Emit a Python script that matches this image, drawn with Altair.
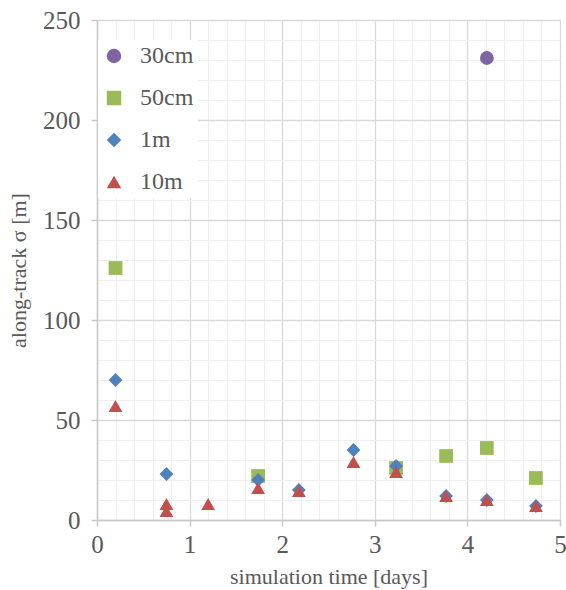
import altair as alt
import pandas as pd

series_names = ["30cm", "50cm", "1m", "10m"]

t_30cm = [4.21]
v_30cm = [231]

t_50cm = [0.20, 1.74, 3.23, 3.77, 4.21, 4.74]
v_50cm = [126, 22, 26, 32, 36, 21]

t_1m = [0.20, 0.75, 1.74, 2.18, 2.77, 3.23, 3.77, 4.21, 4.74]
v_1m = [70, 23, 20, 15, 35, 27, 12, 10, 7]

t_10m = [0.20, 0.75, 0.75, 1.20, 1.74, 2.18, 2.77, 3.23, 3.77, 4.21, 4.74]
v_10m = [57, 8, 4.5, 8, 16, 14.5, 29, 24, 12, 10, 7]

x_major = [0, 1, 2, 3, 4, 5]
x_minor = [i / 5 for i in range(0, 26)]
y_major = [0, 50, 100, 150, 200, 250]
y_minor = list(range(0, 251, 10))

colors = ["#8064A2", "#9BBB59", "#4F81BD", "#C0504D"]
shapes = ["circle", "square", "diamond", "triangle-up"]

rows = []
for name, ts, vs in zip(series_names, [t_30cm, t_50cm, t_1m, t_10m], [v_30cm, v_50cm, v_1m, v_10m]):
    for t, v in zip(ts, vs):
        rows.append({"series": name, "t": t, "v": v})
df = pd.DataFrame(rows)

FONT = "Liberation Serif"
TXT = "#595959"

xscale = alt.Scale(domain=[0, 5], nice=False, zero=False)
yscale = alt.Scale(domain=[0, 250], nice=False)

minor = alt.Chart(df).mark_point(opacity=0).encode(
    x=alt.X("t:Q", scale=xscale, axis=alt.Axis(
        orient="bottom", values=x_minor, grid=True, gridColor="#EFEFEF", gridWidth=1,
        labels=False, ticks=False, domain=False, title=None)),
    y=alt.Y("v:Q", scale=yscale, axis=alt.Axis(
        orient="left", values=y_minor, grid=True, gridColor="#EFEFEF", gridWidth=1,
        labels=False, ticks=False, domain=False, title=None)),
)

legend_cfg = alt.Legend(title=None, orient="none", legendX=1, legendY=20,
                        fillColor="white", padding=4, symbolSize=210,
                        rowPadding=18, labelOffset=14, symbolOpacity=1,
                        labelFont=FONT, labelFontSize=24, labelColor=TXT)

points = alt.Chart(df).mark_point(filled=True, opacity=1, size=190).encode(
    x=alt.X("t:Q", scale=xscale, axis=alt.Axis(
        orient="bottom", values=x_major, grid=True, gridColor="#D9D9D9", gridWidth=1.3,
        domainColor="#C8C8C8", domainWidth=1.5, tickColor="#C8C8C8", tickWidth=1.5, tickSize=6,
        labelFont=FONT, labelFontSize=25, labelColor=TXT, labelFlush=False,
        labelPadding=6, title="simulation time [days]", titlePadding=9, format="d")),
    y=alt.Y("v:Q", scale=yscale, axis=alt.Axis(
        orient="left", values=y_major, grid=True, gridColor="#D9D9D9", gridWidth=1.3,
        domainColor="#C8C8C8", domainWidth=1.5, tickColor="#C8C8C8", tickWidth=1.5, tickSize=6,
        labelFont=FONT, labelFontSize=25, labelColor=TXT, labelFlush=False,
        labelPadding=11, title="along-track σ [m]", titlePadding=12, format="d")),
    color=alt.Color("series:N", scale=alt.Scale(domain=series_names, range=colors),
                    legend=legend_cfg),
    shape=alt.Shape("series:N", scale=alt.Scale(domain=series_names, range=shapes),
                    legend=legend_cfg),
)

chart = alt.layer(minor, points).resolve_axis(x="independent", y="independent").properties(
    width=463, height=500,
    autosize=alt.AutoSizeParams(type="none"),
    padding={"left": 97, "top": 20, "right": 6, "bottom": 70},
    background="white",
).configure(font=FONT).configure_view(stroke=None).configure_axis(
    labelFont=FONT, labelFontSize=25, labelColor=TXT,
    titleFont=FONT, titleFontSize=22, titleFontWeight="normal", titleColor=TXT,
).configure_legend(
    labelFont=FONT, labelFontSize=24, labelColor=TXT,
)

chart.save("out.html", embed_options={"renderer": "svg", "actions": False})
